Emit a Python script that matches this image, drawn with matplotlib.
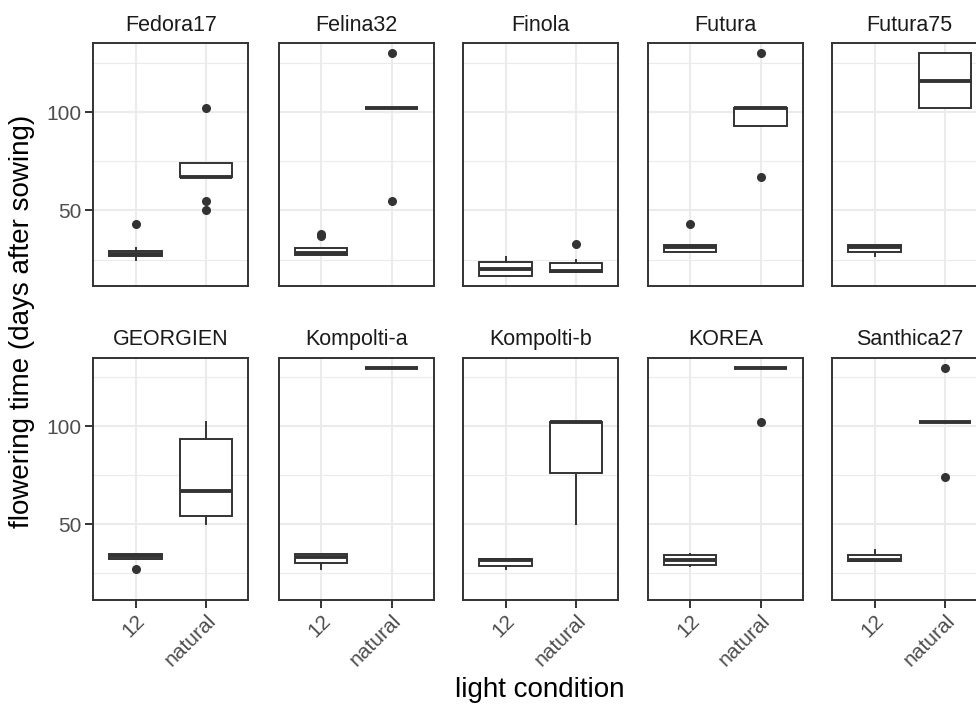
import matplotlib
matplotlib.use("Agg")
import matplotlib.pyplot as plt
from matplotlib.ticker import FixedLocator

plt.rcParams['font.family'] = ['Liberation Sans', 'DejaVu Sans']

# data (one entry per variety: [12, natural])
varieties = ['Fedora17', 'Felina32', 'Finola', 'Futura', 'Futura75',
             'GEORGIEN', 'Kompolti-a', 'Kompolti-b', 'KOREA', 'Santhica27']
conditions = ['12', 'natural']

q1 = [[27, 67], [27.5, 102], [16.7, 18.5], [28.6, 93], [28.6, 102],
      [32.5, 54.5], [30.3, 130], [28.6, 76], [29.2, 130], [31.3, 102]]
med = [[28, 67], [28.5, 102], [20.3, 19.3], [31.5, 102], [31.5, 116],
       [34, 67], [33.5, 130], [32, 102], [32, 130], [32, 102]]
q3 = [[29.5, 74], [31, 102], [24, 23], [32.3, 102], [32.3, 130],
      [35, 93.5], [35, 130], [32.5, 102], [34.3, 130], [34.3, 102]]
whislo = [[25, 67], [27.5, 102], [16.7, 18.5], [28.6, 93], [27, 102],
          [32.5, 50], [27, 130], [27, 50], [29, 130], [31.3, 102]]
whishi = [[31, 74], [31, 102], [26.5, 24.7], [32.3, 102], [32.3, 130],
          [35, 102], [35, 130], [32.5, 102], [35, 130], [36.7, 102]]
fliers = [[[43], [102, 55, 50]], [[37, 38], [130, 55]], [[], [33]],
          [[43], [130, 67]], [[], []], [[27], []], [[], []], [[], []],
          [[], [102]], [[], [130, 74]]]

W, H = 976, 705
fig = plt.figure(figsize=(W / 100, H / 100), dpi=100)

lefts = [93.3, 278.8, 463.3, 647.8, 832.3]
pw = 155
rows = [(43.3, 285.7), (357.7, 599.5)]
dark = '#333333'

for i, v in enumerate(varieties):
    r, c = divmod(i, 5)
    top, bot = rows[r]
    ax = fig.add_axes([lefts[c] / W, 1 - bot / H, pw / W, (bot - top) / H])
    stats = []
    for j in range(2):
        stats.append(dict(med=med[i][j], q1=q1[i][j], q3=q3[i][j],
                          whislo=whislo[i][j], whishi=whishi[i][j],
                          fliers=fliers[i][j], label=conditions[j]))
    ax.bxp(stats, positions=[1, 2], widths=0.75, showcaps=False,
           patch_artist=True,
           boxprops=dict(facecolor='white', edgecolor=dark, linewidth=1.4),
           medianprops=dict(color=dark, linewidth=2.8, solid_capstyle='butt'),
           whiskerprops=dict(color=dark, linewidth=1.4),
           flierprops=dict(marker='o', markerfacecolor=dark, markeredgecolor=dark,
                           markersize=5.5))
    ax.set_xlim(0.4, 2.6)
    ax.set_ylim(11.7, 135)
    ax.set_xticks([1, 2])
    ax.set_yticks([50, 100])
    ax.yaxis.set_minor_locator(FixedLocator([25, 75, 125]))
    ax.grid(True, which='major', color='#EBEBEB', linewidth=1.5)
    ax.grid(True, which='minor', axis='y', color='#EBEBEB', linewidth=0.8)
    ax.set_axisbelow(True)
    for s in ax.spines.values():
        s.set_color(dark)
        s.set_linewidth(1.4)
    ax.tick_params(which='major', length=5.5, width=1.4, color=dark,
                   labelsize=15, labelcolor='#4D4D4D', pad=3)
    ax.tick_params(which='minor', length=0)
    if r == 0:
        ax.tick_params(axis='x', length=0, labelbottom=False)
    else:
        ax.set_xticklabels(conditions, rotation=45, ha='right', va='top',
                           rotation_mode='anchor')
    if c != 0:
        ax.tick_params(axis='y', length=0, labelleft=False)
    ax.set_title(v, fontsize=15.5, color='#1A1A1A', pad=9)

fig.text(22 / W, 1 - 321 / H, 'flowering time (days after sowing)',
         rotation=90, ha='center', va='center', fontsize=20)
fig.text(540 / W, 1 - 690 / H, 'light condition',
         ha='center', va='center', fontsize=20)

fig.savefig('out.png', dpi=100)
